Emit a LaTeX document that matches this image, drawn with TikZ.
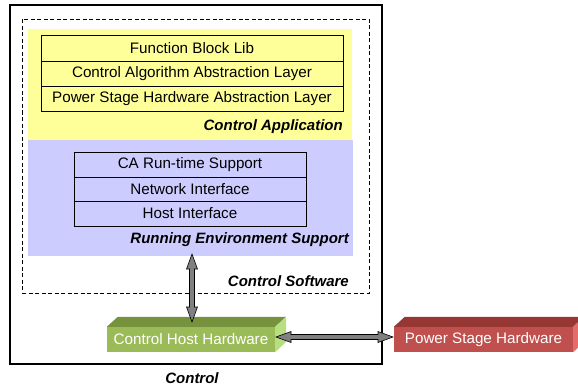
\documentclass[tikz,border=0pt]{standalone}
\usepackage{fontspec}
\setmainfont{Liberation Sans}
\usetikzlibrary{calc}
\definecolor{caYellow}{RGB}{255,255,153}
\definecolor{resBlue}{RGB}{204,204,255}
\definecolor{grFront}{RGB}{155,187,89}
\definecolor{grTop}{RGB}{118,146,60}
\definecolor{grSide}{RGB}{184,222,130}
\definecolor{rdFront}{RGB}{192,80,77}
\definecolor{rdTop}{RGB}{150,55,52}
\definecolor{rdSide}{RGB}{228,108,105}
\definecolor{arrGray}{RGB}{128,128,128}
\newcommand{\fatdbl}[2]{%
  \coordinate (h1) at ($(#1)!15pt!(#2)$);
  \coordinate (h2) at ($(#2)!15pt!(#1)$);
  \draw[fatarrow] (#1) -- ($(h1)!5.5pt!90:(#2)$) -- ($(h1)!2.5pt!90:(#2)$)
    -- ($(h2)!2.5pt!-90:(#1)$) -- ($(h2)!5.5pt!-90:(#1)$) -- (#2)
    -- ($(h2)!5.5pt!90:(#1)$) -- ($(h2)!2.5pt!90:(#1)$)
    -- ($(h1)!2.5pt!-90:(#2)$) -- ($(h1)!5.5pt!-90:(#2)$) -- cycle;}
\tikzset{
  txt/.style={font=\fontsize{15.2}{17}\selectfont},
  lbl/.style={font=\fontsize{15}{17}\selectfont\bfseries\itshape, inner sep=0pt},
  layer/.style={draw=black, line width=1pt, rectangle, inner sep=0pt, txt},
  region/.style={rectangle, inner sep=0pt, draw=none},
  fatarrow/.style={fill=arrGray, draw=black, line width=0.6pt, line join=miter},
  front/.style={rectangle, inner sep=0pt, minimum height=25pt, text=white, txt},
}
\begin{document}
\begin{tikzpicture}[x=1pt,y=-1pt]
\useasboundingbox (0,0) rectangle (578,388);
% outer control box
\node[region, draw=black, line width=1.3pt, minimum width=372pt, minimum height=359pt] (ctrl) at (196,184.5) {};
% dashed control software box
\node[region, draw=black, line width=0.7pt, dash pattern=on 4pt off 2.5pt, minimum width=347pt, minimum height=274pt] (csw) at (195.5,156) {};
% regions
\node[region, fill=caYellow, minimum width=324pt, minimum height=111pt] (ca) at (190,84.5) {};
\node[region, fill=resBlue, minimum width=325pt, minimum height=116pt] (res) at (190.5,198) {};
% yellow stack
\node[layer, minimum width=302pt, minimum height=26pt] (fbl) at (192,48) {Function Block Lib};
\node[layer, minimum width=302pt, minimum height=25pt] (caal) at (192,73.5) {Control Algorithm Abstraction Layer};
\node[layer, minimum width=302pt, minimum height=25pt] (pshal) at (192,98.5) {Power Stage Hardware Abstraction Layer};
\node[lbl, anchor=east] (calbl) at (343,127) {Control Application};
% blue stack
\node[layer, line width=0.8pt, minimum width=232pt, minimum height=25pt] (rts) at (190,164.5) {CA Run-time Support};
\node[layer, line width=0.8pt, minimum width=232pt, minimum height=24pt] (ni) at (190,189) {Network Interface};
\node[layer, line width=0.8pt, minimum width=232pt, minimum height=25pt] (hi) at (190,213.5) {Host Interface};
\node[lbl, anchor=east] (reslbl) at (349,240) {Running Environment Support};
\node[lbl, anchor=east] (cswlbl) at (349,281) {Control Software};
\node[lbl] (ctrllbl) at (192,378) {Control};
% 3D boxes
\node[front, fill=grFront, minimum width=168pt] (chh) at (191,339.5) {Control Host Hardware};
\fill[grTop] (chh.north west) -- ++(11,-10) -- ++(168,0) -- (chh.north east) -- cycle;
\fill[grSide] (chh.north east) -- ++(11,-10) -- ++(0,25) -- (chh.south east) -- cycle;
\node[front, fill=rdFront, minimum width=179pt] (psh) at (483.5,339.5) {Power Stage Hardware};
\fill[rdTop] (psh.north west) -- ++(11,-10) -- ++(179,0) -- (psh.north east) -- cycle;
\fill[rdSide] (psh.north east) -- ++(11,-10) -- ++(0,25) -- (psh.south east) -- cycle;
% arrows
\coordinate (vtop) at (192,254);
\coordinate (vbot) at (192,322);
\fatdbl{vtop}{vbot}
\coordinate (hl) at (276,337);
\coordinate (hr) at (393,337);
\fatdbl{hl}{hr}
\end{tikzpicture}
\end{document}
